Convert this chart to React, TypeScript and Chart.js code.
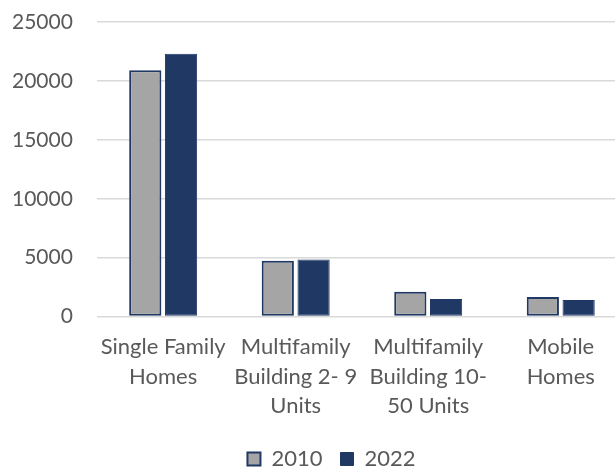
import React, { useEffect, useRef } from "react";
import { Chart, registerables } from "chart.js";

Chart.register(...registerables);

const categories: string[][] = [
  ["Single Family", "Homes"],
  ["Multifamily", "Building 2- 9", "Units"],
  ["Multifamily", "Building 10-", "50 Units"],
  ["Mobile", "Homes"],
];
const values2010 = [20900, 4730, 2110, 1660];
const values2022 = [22300, 4840, 1500, 1410];
const seriesNames = ["2010", "2022"];
const yTicks = [0, 5000, 10000, 15000, 20000, 25000];

const GRAY = "#a5a5a5";
const NAVY = "#203864";
const TEXT = "#595959";
const FONT = "Lato, 'Open Sans', sans-serif";
const FS = 22;

const legendShift = {
  id: "legendShift",
  afterLayout(chart: any) {
    const lg = chart.legend;
    if (lg) {
      lg.left += 12;
      lg.right += 12;
    }
  },
};

export default function App() {
  const ref = useRef<HTMLCanvasElement | null>(null);
  useEffect(() => {
    document.body.style.margin = "0";
    document.body.style.overflow = "hidden";
    const ctx = ref.current!;
    const chart = new Chart(ctx, {
      type: "bar",
      data: {
        labels: categories,
        datasets: [
          {
            label: seriesNames[0],
            data: values2010,
            backgroundColor: GRAY,
            borderColor: NAVY,
            borderWidth: 2,
            borderSkipped: false,
            categoryPercentage: 0.54,
            barPercentage: 0.9,
          },
          {
            label: seriesNames[1],
            data: values2022,
            backgroundColor: NAVY,
            borderColor: NAVY,
            borderWidth: 1,
            borderSkipped: false,
            categoryPercentage: 0.54,
            barPercentage: 0.9,
          },
        ],
      },
      options: {
        responsive: false,
        animation: false,
        layout: { padding: { left: 12, right: 33, top: 22, bottom: -12 } },
        plugins: {
          legend: {
            position: "bottom",
            labels: {
              color: TEXT,
              font: { family: FONT, size: FS },
              boxWidth: 13,
              boxHeight: 13,
              padding: 18,
              useBorderRadius: false,
            },
          },
          tooltip: { enabled: false },
        },
        scales: {
          x: {
            grid: {
              display: true,
              color: "rgba(0,0,0,0)",
              drawTicks: true,
              tickLength: 16,
              tickColor: "rgba(0,0,0,0)",
            },
            border: { display: false },
            afterFit: (axis: any) => {
              axis.height += 9;
            },
            ticks: {
              color: TEXT,
              font: { family: FONT, size: FS, lineHeight: 1.34 },
              maxRotation: 0,
              autoSkip: false,
              padding: 0,
            },
          },
          y: {
            min: 0,
            max: 25000,
            afterBuildTicks: (axis: any) => {
              axis.ticks = yTicks.map((v) => ({ value: v }));
            },
            grid: {
              color: "#d9d9d9",
              lineWidth: 1.5,
              drawTicks: true,
              tickLength: 24,
              tickColor: "rgba(0,0,0,0)",
            },
            border: { display: false },
            ticks: {
              color: TEXT,
              font: { family: FONT, size: 21 },
              padding: 0,
              callback: (v: any) => String(v),
            },
          },
        },
      },
      plugins: [legendShift],
    });
    return () => chart.destroy();
  }, []);
  return (
    <div style={{ position: "fixed", left: 0, top: 0, width: 615, height: 468, overflow: "hidden", background: "#fff" }}>
      <canvas ref={ref} width={660} height={468} style={{ display: "block" }} />
    </div>
  );
}
